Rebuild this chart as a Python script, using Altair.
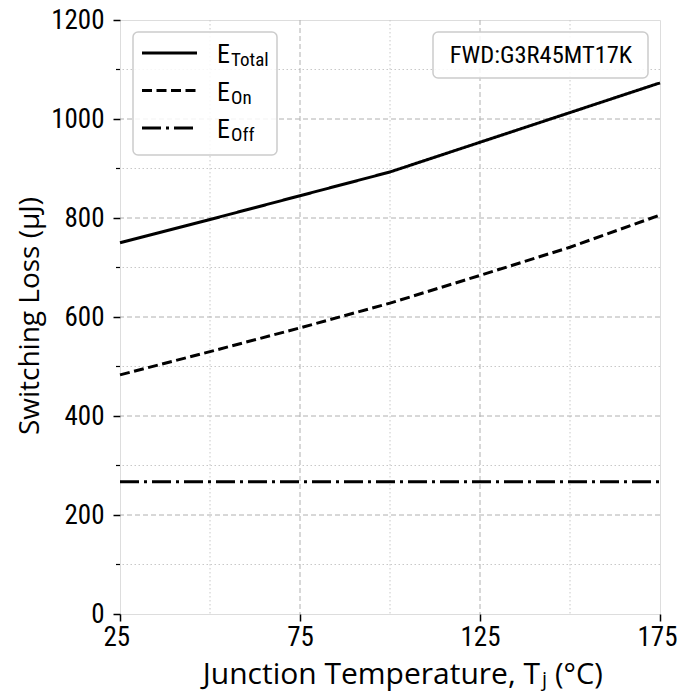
import altair as alt
import pandas as pd

temps = [25, 50, 75, 100, 125, 150, 175]
e_total = [750, 797, 845, 893, 953, 1013, 1073]
e_on = [483, 530, 578, 628, 684, 741, 806]
e_off = [267, 267, 267, 267, 267, 267, 267]

series_names = ["Total", "On", "Off"]
x_ticks = [25, 75, 125, 175]
y_ticks = [0, 200, 400, 600, 800, 1000, 1200]
major_x = [75, 125]
minor_x = [50, 100, 150]
major_y = [200, 400, 600, 800, 1000]
minor_y = [100, 300, 500, 700, 900, 1100]
annotation = "FWD:G3R45MT17K"
y_title = "Switching Loss (μJ)"
x_title_parts = ["Junction Temperature, T", "j", "(°C)"]

W, H = 540, 594
COND = "Roboto Condensed, Roboto"
TITLE = "Open Sans"

dashes = {"Total": [1, 0], "On": [10, 4.5], "Off": [19, 5, 3, 5]}

rows = []
for name, vals in zip(series_names, [e_total, e_on, e_off]):
    for t, v in zip(temps, vals):
        rows.append({"T": t, "E": v, "series": name})
df = pd.DataFrame(rows)

xscale = alt.Scale(domain=[25, 175], nice=False, zero=False)
yscale = alt.Scale(domain=[0, 1200], nice=False)

lines = alt.Chart(df).mark_line(color="black", strokeWidth=3).encode(
    x=alt.X("T:Q", scale=xscale,
            axis=alt.Axis(values=x_ticks, title=None, grid=False, domain=False,
                          format="d", tickSize=7, tickWidth=1.5, tickColor="black",
                          labelFont=COND, labelFontSize=27, labelColor="black",
                          labelPadding=3, labelFlush=True, labelFlushOffset=17)),
    y=alt.Y("E:Q", scale=yscale,
            axis=alt.Axis(values=y_ticks, title=None, grid=False, format="d",
                          domain=False, tickSize=7, tickWidth=1.5, tickColor="black",
                          labelFont=COND, labelFontSize=27, labelColor="black",
                          labelPadding=9)),
    strokeDash=alt.StrokeDash("series:N",
                              scale=alt.Scale(domain=series_names,
                                              range=[dashes[s] for s in series_names]),
                              legend=None),
    detail="series:N",
)

gx_major = alt.Chart(pd.DataFrame({"v": major_x})).mark_rule(
    color="#b0b0b0", strokeWidth=1, strokeDash=[5, 3]).encode(
    x=alt.X("v:Q", scale=xscale))
gx_minor = alt.Chart(pd.DataFrame({"v": minor_x})).mark_rule(
    color="#c8c8c8", strokeWidth=1, strokeDash=[1.5, 2.5]).encode(
    x=alt.X("v:Q", scale=xscale))
gy_major = alt.Chart(pd.DataFrame({"v": major_y})).mark_rule(
    color="#b0b0b0", strokeWidth=1, strokeDash=[5, 3]).encode(
    y=alt.Y("v:Q", scale=yscale))
gy_minor = alt.Chart(pd.DataFrame({"v": minor_y})).mark_rule(
    color="#c8c8c8", strokeWidth=1, strokeDash=[1.5, 2.5]).encode(
    y=alt.Y("v:Q", scale=yscale))
y_minor_ticks = alt.Chart(pd.DataFrame({"v": minor_y})).mark_rule(
    color="black", strokeWidth=1.2).encode(
    y=alt.Y("v:Q", scale=yscale), x=alt.value(-4), x2=alt.value(0))

one = pd.DataFrame({"a": [0]})

def box(x1, x2, y1, y2):
    return alt.Chart(one).mark_rect(
        fill="white", fillOpacity=0.85, stroke="#cccccc", strokeWidth=1.5,
        cornerRadius=5).encode(
        x=alt.value(x1), x2=alt.value(x2), y=alt.value(y1), y2=alt.value(y2))

def txt(t, x, y, size, font, align="left", angle=0):
    return alt.Chart(pd.DataFrame({"t": [t]})).mark_text(
        font=font, fontSize=size, align=align, baseline="alphabetic",
        color="black", angle=angle).encode(text="t:N", x=alt.value(x), y=alt.value(y))

layers = [gx_minor, gy_minor, gx_major, gy_major, lines, y_minor_ticks]

# legend
layers.append(box(13, 157, 12, 135))
for i, s in enumerate(series_names):
    ly = 33 + 37.5 * i
    layers.append(alt.Chart(one).mark_rule(
        color="black", strokeWidth=3, strokeDash=dashes[s]).encode(
        x=alt.value(22), x2=alt.value(77), y=alt.value(ly)))
    layers.append(txt("E", 97, ly + 10, 26, COND))
    layers.append(txt(s, 111, ly + 13, 19, COND))

# annotation
layers.append(box(313, 528, 12, 58))
layers.append(txt(annotation, 421, 43, 24.5, COND, align="center"))

# axis titles
layers.append(txt(y_title, -81, 296, 28, TITLE, align="center", angle=270))
layers.append(txt(x_title_parts[0], 420, 664, 30, TITLE, align="right"))
layers.append(txt(x_title_parts[1], 422, 666, 20, TITLE))
layers.append(txt(x_title_parts[2], 435, 664, 29, TITLE))

chart = alt.layer(*layers).properties(
    width=W, height=H,
    autosize=alt.AutoSizeParams(type="none"),
    padding={"left": 112, "top": 12, "right": 17, "bottom": 78},
).configure_view(stroke="black", strokeWidth=1.5).configure(background="white")

chart.save("out.html", embed_options={"renderer": "svg", "actions": False})
